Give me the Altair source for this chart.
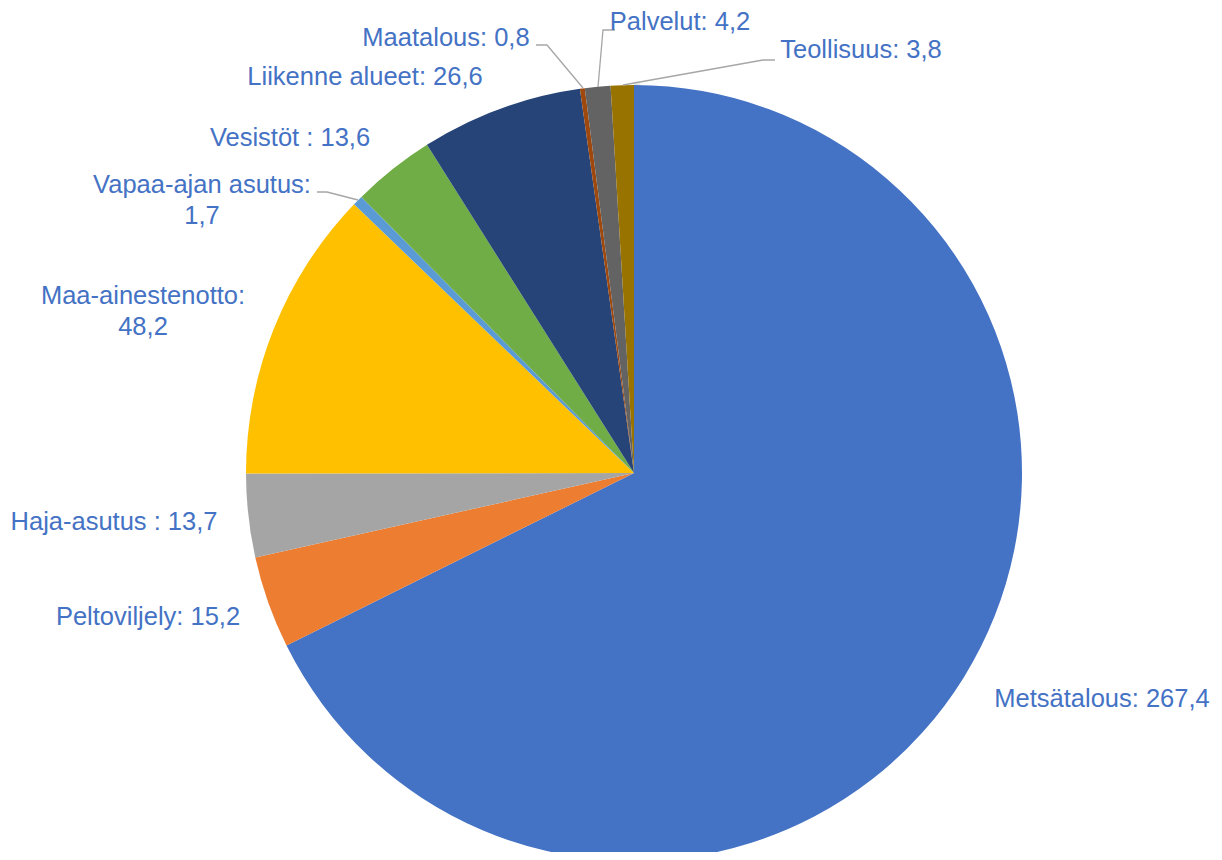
import altair as alt
import pandas as pd

# ---- data ----
categories = ["Metsätalous", "Peltoviljely", "Haja-asutus ", "Maa-ainestenotto",
              "Vapaa-ajan asutus", "Vesistöt ", "Liikenne alueet", "Maatalous",
              "Palvelut", "Teollisuus"]
values = [267.4, 15.2, 13.7, 48.2, 1.7, 13.6, 26.6, 0.8, 4.2, 3.8]
colors = ["#4472C4", "#ED7D31", "#A5A5A5", "#FFC000", "#5B9BD5",
          "#70AD47", "#264478", "#9E480E", "#636363", "#997300"]

# ---- layout (view pixel positions of labels' first line, separator between name and value) ----
label_x = [1094, 140, 106, 135, 194, 282, 357, 438, 672, 853]
label_y = [691, 609, 514, 288, 177, 130, 69, 30, 14, 42]
label_sep = [" ", " ", " ", "\n", "\n", " ", " ", " ", " ", " "]

# leader lines (view pixels): (leader id, x, y)
leaders = [
    ("Vapaa", 309, 184), ("Vapaa", 319, 184), ("Vapaa", 350, 192),
    ("Maat", 528, 37), ("Maat", 539, 37), ("Maat", 575, 80),
    ("Palv", 607, 22), ("Palv", 595, 22), ("Palv", 590, 79),
    ("Teol", 767, 52), ("Teol", 755, 52), ("Teol", 615, 77),
]

CX, CY, R = 626, 465, 388


def fmt(v):
    return f"{v:.1f}".replace(".", ",")


df = pd.DataFrame({
    "category": categories,
    "value": values,
    "order": list(range(len(categories))),
})

labels = pd.DataFrame({
    "text": [f"{c}:{s}{fmt(v)}" for c, v, s in zip(categories, values, label_sep)],
    "lx": label_x,
    "ly": label_y,
})

lead_df = pd.DataFrame(
    [{"id": i, "x": x, "y": y, "k": k} for k, (i, x, y) in enumerate(leaders)]
)

shadow_df = pd.DataFrame({"v": [1]})

shadow1 = alt.Chart(shadow_df).mark_arc(outerRadius=R + 6, color="#000000", opacity=0.03).encode(
    theta=alt.Theta("v:Q"), x=alt.value(CX), y=alt.value(CY + 2)
)
shadow2 = alt.Chart(shadow_df).mark_arc(outerRadius=R + 3, color="#000000", opacity=0.05).encode(
    theta=alt.Theta("v:Q"), x=alt.value(CX), y=alt.value(CY + 1)
)

pie = alt.Chart(df).mark_arc(outerRadius=R).encode(
    theta=alt.Theta("value:Q", stack=True),
    order=alt.Order("order:Q", sort="ascending"),
    color=alt.Color("category:N", scale=alt.Scale(domain=categories, range=colors), legend=None),
    x=alt.value(CX),
    y=alt.value(CY),
)

lines = alt.Chart(lead_df).mark_line(color="#A6A6A6", strokeWidth=1.3).encode(
    x=alt.X("x:Q", scale=None),
    y=alt.Y("y:Q", scale=None),
    detail="id:N",
    order="k:Q",
)

text = alt.Chart(labels).mark_text(
    font="Liberation Sans", fontSize=25.5, color="#4472C4",
    align="center", baseline="middle", lineBreak="\n", lineHeight=31,
).encode(
    x=alt.X("lx:Q", scale=None),
    y=alt.Y("ly:Q", scale=None),
    text="text:N",
)

chart = alt.layer(shadow1, shadow2, pie, lines, text).properties(
    width=1206, height=844, autosize=alt.AutoSizeParams(type="none"), padding=0,
).configure_view(stroke=None)

chart.save("out.html", embed_options={"renderer": "svg", "actions": False})
